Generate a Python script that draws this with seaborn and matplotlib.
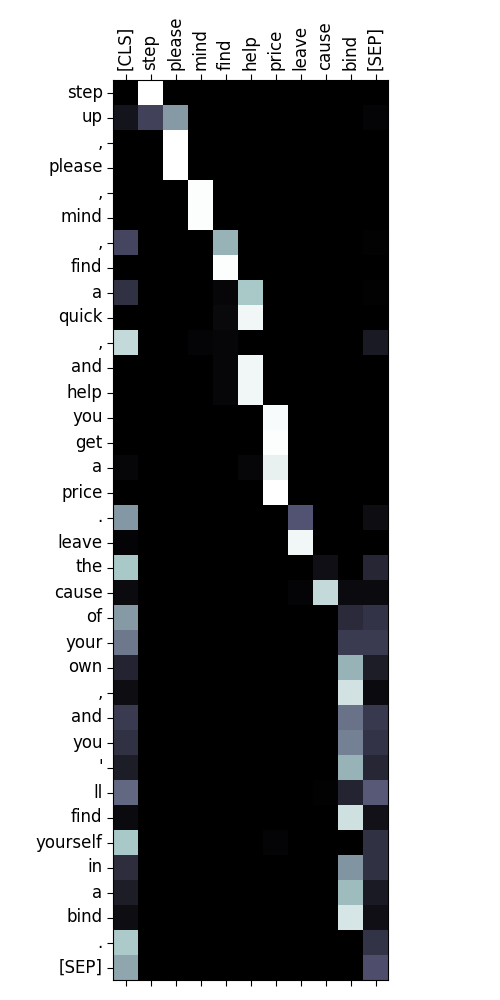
import numpy as np
import pandas as pd
import seaborn as sns
import matplotlib.pyplot as plt

# tokens of the source (rows) and the keys (columns)
filas = ["step", "up", ",", "please", ",", "mind", ",", "find", "a", "quick", ",",
         "and", "help", "you", "get", "a", "price", ".", "leave", "the", "cause",
         "of", "your", "own", ",", "and", "you", "'", "ll", "find", "yourself",
         "in", "a", "bind", ".", "[SEP]"]
columnas = ["[CLS]", "step", "please", "mind", "find", "help", "price",
            "leave", "cause", "bind", "[SEP]"]

# pesos de atencion, una lista por fila (orden de columnas de arriba)
pesos = [
    [0.00, 1.00, 0, 0, 0, 0, 0, 0, 0, 0, 0.00],
    [0.09, 0.29, 0.60, 0, 0, 0, 0, 0, 0, 0, 0.02],
    [0.00, 0, 1.00, 0, 0, 0, 0, 0, 0, 0, 0.00],
    [0.00, 0, 1.00, 0, 0, 0, 0, 0, 0, 0, 0.00],
    [0.00, 0, 0, 0.99, 0, 0, 0, 0, 0, 0, 0.00],
    [0.00, 0, 0, 0.99, 0, 0, 0, 0, 0, 0, 0.00],
    [0.31, 0, 0, 0, 0.68, 0, 0, 0, 0, 0, 0.01],
    [0.00, 0, 0, 0, 0.99, 0, 0, 0, 0, 0, 0.00],
    [0.22, 0, 0, 0, 0.03, 0.75, 0, 0, 0, 0, 0.01],
    [0.00, 0, 0, 0, 0.04, 0.96, 0, 0, 0, 0, 0.00],
    [0.83, 0, 0, 0.02, 0.03, 0, 0, 0, 0, 0, 0.12],
    [0.00, 0, 0, 0, 0.03, 0.96, 0, 0, 0, 0, 0.00],
    [0.00, 0, 0, 0, 0.03, 0.96, 0, 0, 0, 0, 0.00],
    [0.00, 0, 0, 0, 0, 0, 0.98, 0, 0, 0, 0.00],
    [0.00, 0, 0, 0, 0, 0, 0.99, 0, 0, 0, 0.00],
    [0.03, 0, 0, 0, 0, 0.03, 0.93, 0, 0, 0, 0.00],
    [0.00, 0, 0, 0, 0, 0, 1.00, 0, 0, 0, 0.00],
    [0.59, 0, 0, 0, 0, 0, 0, 0.37, 0, 0, 0.06],
    [0.02, 0, 0, 0, 0, 0, 0, 0.96, 0, 0, 0.00],
    [0.75, 0, 0, 0, 0, 0, 0, 0, 0.07, 0, 0.17],
    [0.05, 0, 0, 0, 0, 0, 0, 0.02, 0.83, 0.05, 0.05],
    [0.60, 0, 0, 0, 0, 0, 0, 0, 0, 0.19, 0.23],
    [0.49, 0, 0, 0, 0, 0, 0, 0, 0, 0.26, 0.26],
    [0.16, 0, 0, 0, 0, 0, 0, 0, 0, 0.68, 0.13],
    [0.06, 0, 0, 0, 0, 0, 0, 0, 0, 0.87, 0.05],
    [0.26, 0, 0, 0, 0, 0, 0, 0, 0, 0.47, 0.25],
    [0.22, 0, 0, 0, 0, 0, 0, 0, 0, 0.52, 0.23],
    [0.13, 0, 0, 0, 0, 0, 0, 0, 0, 0.68, 0.17],
    [0.44, 0, 0, 0, 0, 0, 0, 0, 0.01, 0.16, 0.39],
    [0.05, 0, 0, 0, 0, 0, 0, 0, 0, 0.86, 0.08],
    [0.75, 0, 0, 0, 0, 0, 0.02, 0, 0, 0, 0.22],
    [0.20, 0, 0, 0, 0, 0, 0, 0, 0, 0.58, 0.22],
    [0.13, 0, 0, 0, 0, 0, 0, 0, 0, 0.71, 0.12],
    [0.06, 0, 0, 0, 0, 0, 0, 0, 0, 0.88, 0.07],
    [0.76, 0, 0, 0, 0, 0, 0, 0, 0, 0, 0.23],
    [0.64, 0, 0, 0, 0, 0, 0, 0, 0, 0, 0.35],
]

df = pd.DataFrame(np.array(pesos), columns=columnas)

fig = plt.figure(figsize=(5, 10), dpi=100)
ax = fig.add_axes([0.226, 0.02, 0.55, 0.90])
sns.heatmap(df, cmap="bone", vmin=0, vmax=1, cbar=False, square=True, ax=ax)

# etiquetas arriba, ticks tambien abajo
ax.set_yticks(np.arange(len(filas)) + 0.5)
ax.set_yticklabels(filas, rotation=0, fontsize=12)
ax.set_xticks(np.arange(len(columnas)) + 0.5)
ax.set_xticklabels(columnas, rotation=90, fontsize=12)
ax.tick_params(axis="x", top=True, labeltop=True, bottom=True, labelbottom=False)
ax.tick_params(axis="both", length=4, width=0.8)
for s in ax.spines.values():
    s.set_visible(True)
    s.set_linewidth(0.8)

fig.savefig("out.png", dpi=100)
